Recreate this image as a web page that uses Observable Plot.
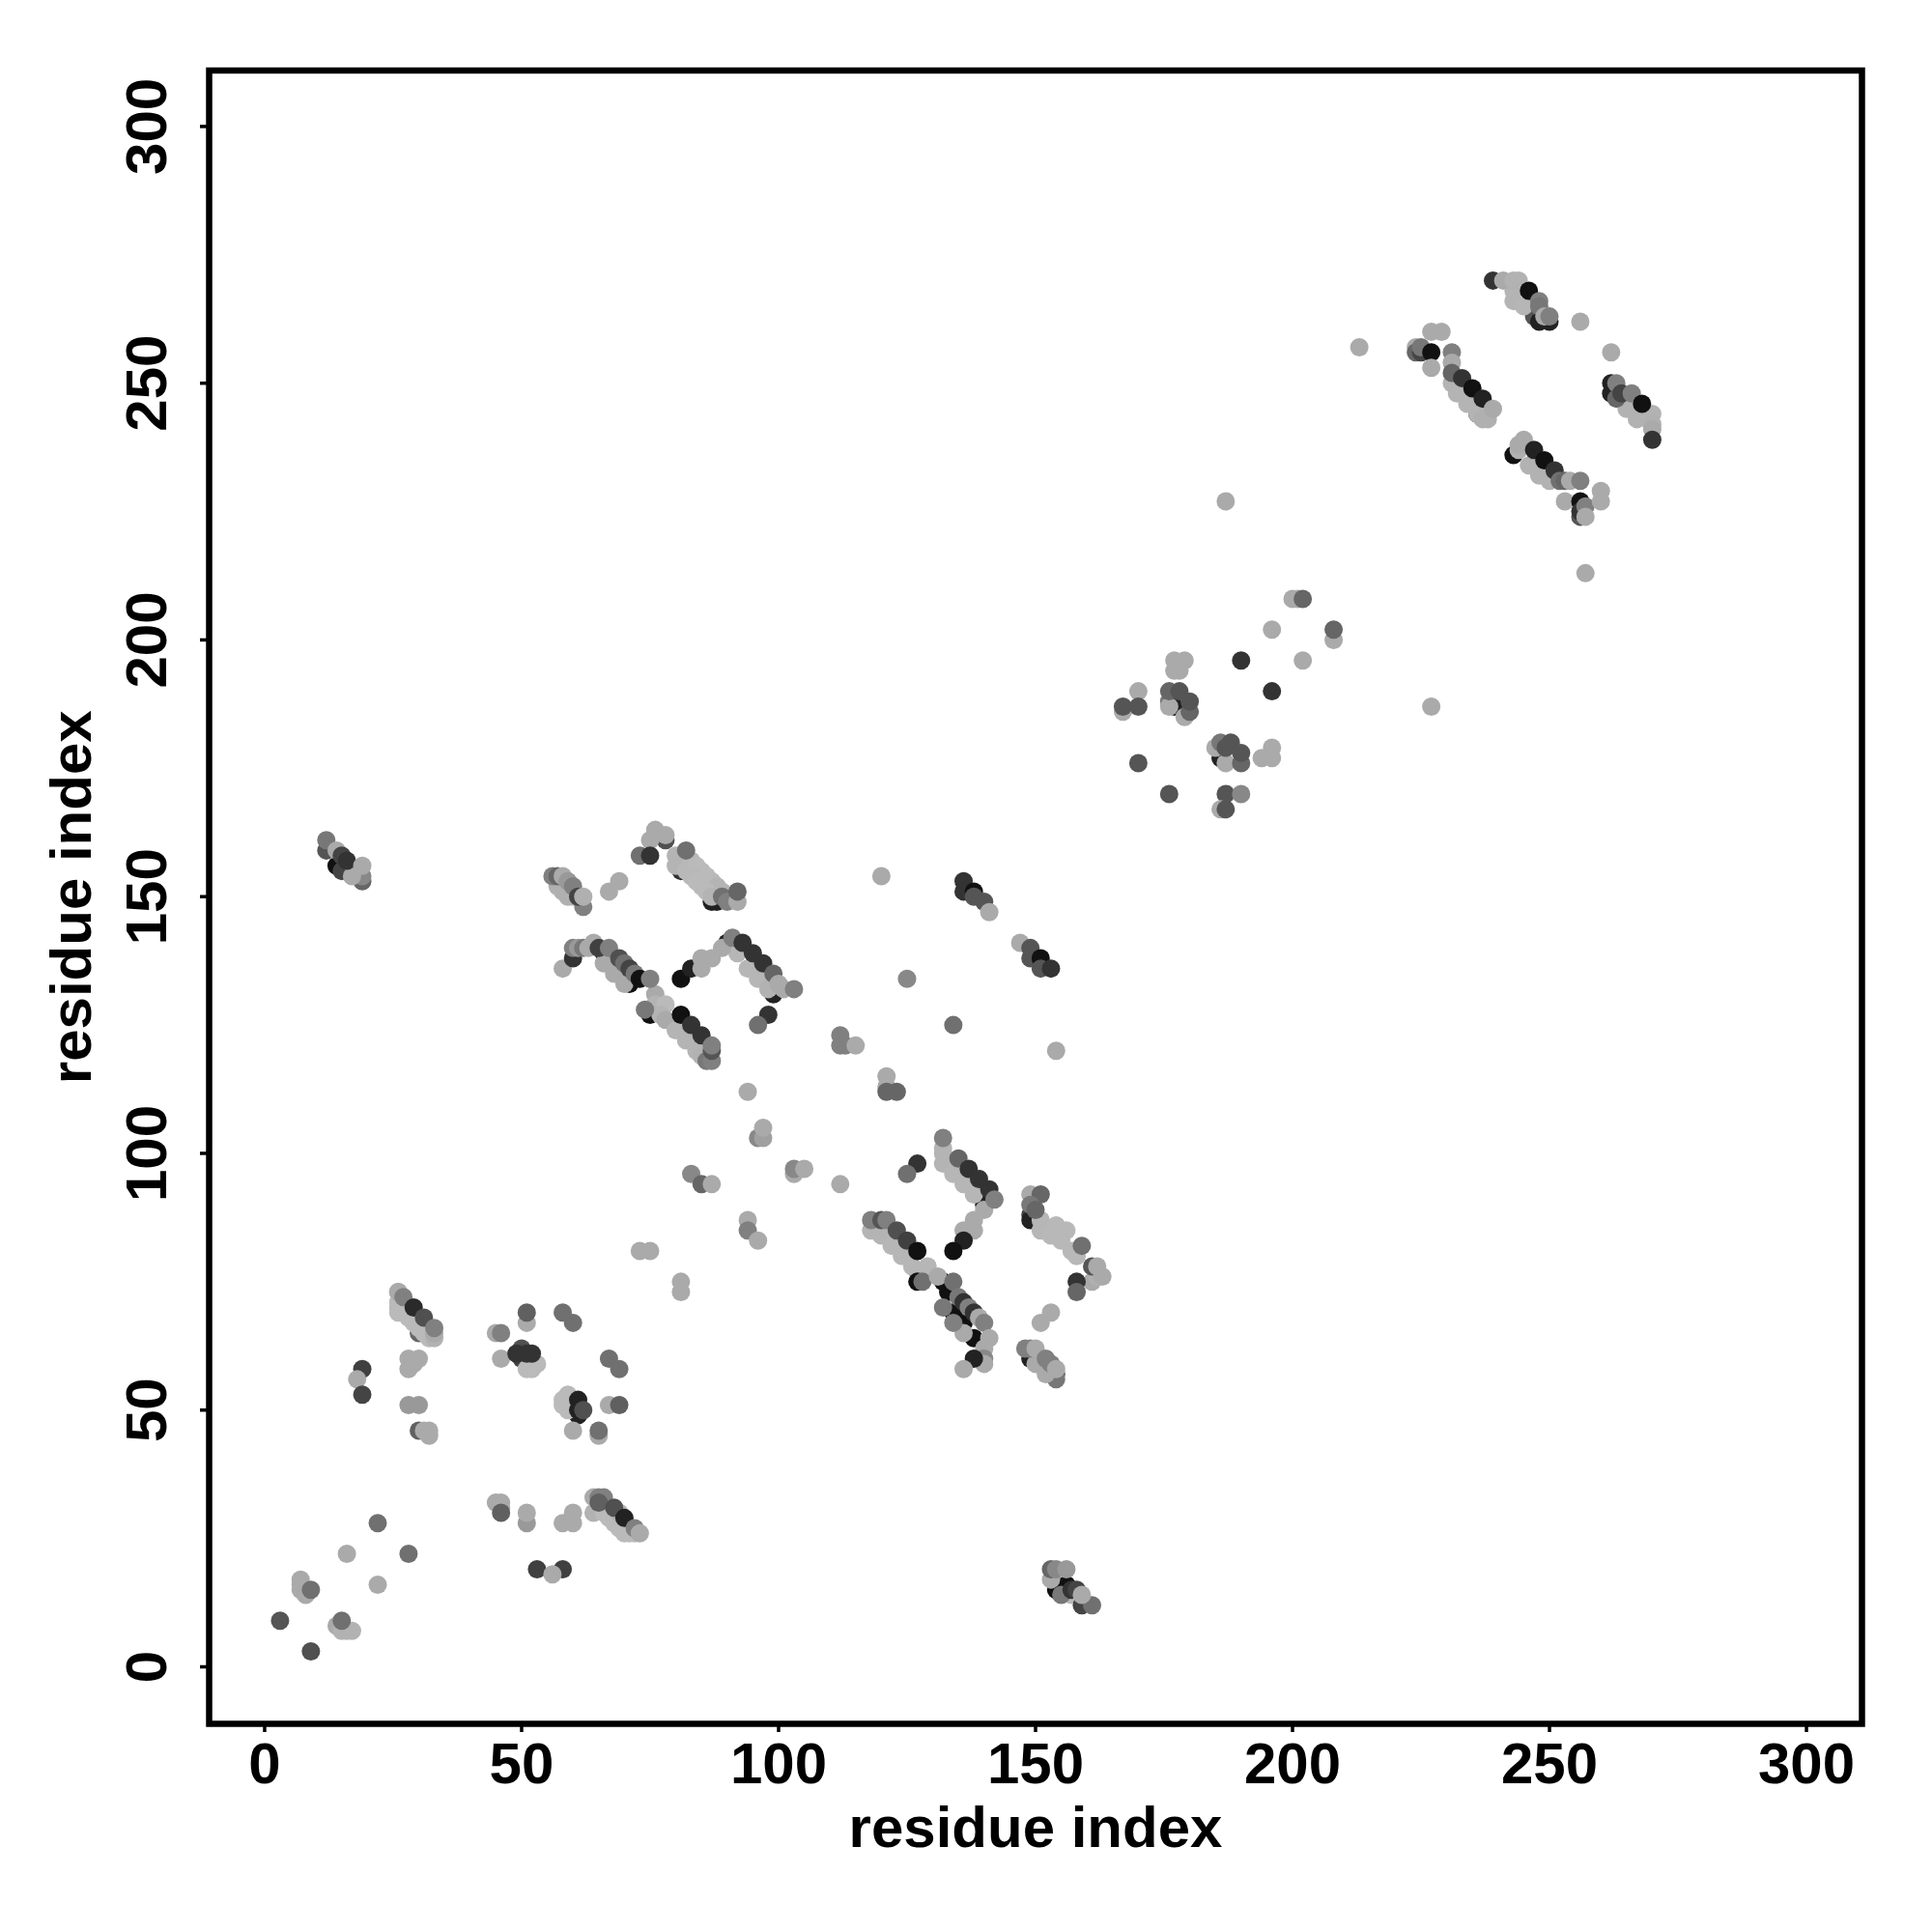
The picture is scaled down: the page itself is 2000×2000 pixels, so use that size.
<!DOCTYPE html>
<html>
<head>
<meta charset="utf-8">
<script src="https://cdn.jsdelivr.net/npm/d3@7"></script>
<script src="https://cdn.jsdelivr.net/npm/@observablehq/plot@0.6"></script>
<style>html,body{margin:0;padding:0;background:#fff}</style>
</head>
<body>
<script>
// Each record: [residue i, residue j, grey level 0-255]
const axisTicks = [0, 50, 100, 150, 200, 250, 300];
const axisLabel = "residue index";

// dark contacts partly hidden by the pale bands
const underLayer = [
 [31,66,51],[30,65,102],[32,65,51],[51,60,51],[50,60,68],[66,139,34],[67,137,17],[69,135,34],[71,133,17],
 [75,127,17],[81,155,51],[87,149,34],[88,149,34],[90,141,34],[99,131,34],[149,88,68],[149,87,34],
 [132,75,17],[133,73,17],[134,69,17],[136,67,17],[138,64,17],[140,90,34],[149,60,34],[154,57,85],[154,56,119],
 [243,236,17],[247,263,85],[248,262,34],[250,262,34],[236,244,17],[238,245,68],[256,224,85],[262,250,34],[262,248,34],
 [176,188,119],[177,187,34],[186,177,34],[14,156,17],[15,155,68],[154,15,17],[156,16,17],[61,49,34],[78,161,80],
 [45,65,170],[26,73,170],[167,186,170],[176,187,170],[185,179,170],[179,185,170],[187,176,170],[19,153,102],[19,154,136]
];
// pale diagonal bands
const paleLayer = [
 [7,17,170],[7,16,170],[7,15,170],[8,14,170],[14,8,170],[15,7,178],[16,7,178],[17,7,178],
 [26,71,186],[26,70,186],[26,69,186],[27,69,186],[28,70,186],[28,68,186],[29,67,186],[30,66,186],[31,65,186],[32,64,186],[33,64,178],[33,65,170],
 [51,58,186],[52,58,186],[53,59,186],[58,51,186],[58,52,186],[59,53,186],[59,50,186],[60,51,186],
 [64,33,170],[65,31,186],[64,30,178],[66,30,186],[67,29,186],[68,28,186],[69,27,186],[70,26,186],[71,26,186],[72,26,186],[69,30,178],
 [57,152,176],[58,151,176],[59,150,176],[60,150,176],[80,158,180],[80,156,180],[81,157,180],[82,155,184],[83,157,184],[84,156,186],[85,155,186],[86,154,186],[87,153,186],[88,152,180],[89,151,180],[83,154,184],[84,153,186],[85,152,186],[86,151,186],[87,150,180],
 [66,137,170],[68,135,170],[70,133,170],[76,131,170],[76,129,180],[78,129,186],[77,127,180],[78,126,170],[80,124,180],[82,122,180],[84,120,180],[85,119,178],[86,118,120],
 [92,139,182],[94,136,182],[96,134,182],[98,132,178],
 [132,101,180],[132,100,180],[132,98,180],[134,96,182],[136,94,182],[138,92,182],[140,89,170],
 [118,85,180],[120,84,180],[122,82,182],[124,80,182],[126,78,182],[129,78,182],[127,77,182],[136,65,170],
 [151,87,182],[151,85,182],[153,84,184],[154,86,184],[155,83,184],[156,85,184],[157,81,184],[158,80,184],[161,75,170],[162,76,176],
 [150,59,170],[152,57,170],[243,268,180],[243,266,180],[245,265,182],
 [231,250,180],[232,248,180],[234,246,180],[236,244,180],[237,243,176],[238,243,176],
 [244,237,176],[246,234,178],[248,232,178],[250,231,178],[265,245,178],[267,243,178],[269,243,178],[270,244,178],[270,242,176],
 [17,154,170],[157,14,186],[153,17,170]
];
// remaining contacts, drawn on top
const topLayer = [
 [3,9,85],[9,3,80],[9,15,112],[15,9,112],[16,22,170],[22,28,112],[28,22,112],[22,16,170],
 [26,73,170],[27,72,128],[29,70,42],[31,68,80],[33,66,128],
 [28,60,170],[30,60,170],[28,58,170],[29,59,170],[19,58,64],[18,56,170],[19,53,68],[28,51,153],[30,51,153],
 [30,46,96],[31,46,170],[32,46,170],[32,45,170],
 [46,65,128],[46,60,170],[51,67,170],[51,69,96],[58,69,112],[60,67,112],[50,62,80],[49,61,51],[51,61,51],[52,61,51],
 [67,60,112],[69,58,112],[61,52,34],[61,50,34],[62,50,80],[60,46,170],[65,45,170],[65,46,112],[67,51,170],[69,51,96],
 [45,32,170],[46,32,170],[46,31,170],[46,30,96],[51,28,153],[51,30,170],[58,28,170],[60,28,170],[60,30,170],
 [53,19,64],[58,19,64],[56,18,170],
 [65,33,128],[66,33,128],[65,32,96],[68,31,80],[70,29,34],[72,27,128],[73,26,170],
 [56,154,128],[57,154,102],[58,154,170],[59,153,153],[60,152,128],[62,148,128],[61,150,68],[62,150,176],
 [67,151,170],[69,153,170],[75,161,170],[76,163,170],[78,162,170],[73,158,112],[75,158,51],
 [82,159,112],[89,150,112],[90,149,128],[92,149,170],[92,151,102],
 [58,136,170],[60,138,51],[60,140,128],[61,140,153],[62,140,120],[63,140,170],[64,141,170],[65,140,64],[67,140,128],
 [69,138,80],[70,137,112],[71,136,68],[72,135,120],[73,134,17],[75,134,128],[74,128,120],
 [81,127,17],[83,125,51],[85,123,51],[87,118,128],[87,120,85],[87,121,128],
 [81,134,17],[83,136,34],[85,136,170],[85,138,170],[87,138,170],[89,140,170],[91,142,128],[93,141,51],[95,139,51],[97,137,51],[99,135,102],[100,133,170],[101,132,170],[103,132,128],
 [98,127,51],[96,125,112],[94,112,170],[96,103,136],[97,103,160],[97,105,170],
 [83,96,136],[85,94,102],[87,94,170],[103,96,170],[103,97,136],[105,97,170],[112,94,170],
 [94,87,170],[94,85,128],[96,83,170],[73,81,170],[75,81,170],[81,75,170],[81,73,170],
 [120,154,170],[125,134,136],[134,125,112],[112,123,128],[112,121,128],[113,121,128],[115,121,170],
 [121,115,170],[121,113,170],[121,112,102],[123,112,102],[154,120,170],
 [136,153,51],[136,151,51],[138,151,17],[138,150,85],[140,149,85],[141,147,170],
 [147,141,170],[149,140,85],[149,138,85],[151,138,17],[151,136,85],[153,136,51],
 [132,103,128],[135,99,102],[137,97,51],[139,95,51],[141,93,51],[142,91,128],
 [138,87,170],[138,85,170],[136,85,170],[136,83,34],[134,81,17],[127,98,51],[125,96,112],
 [118,87,128],[120,87,85],[121,87,128],[123,85,80],[125,83,64],[127,81,17],
 [127,75,17],[128,75,112],[131,76,170],[134,75,112],[135,72,120],[136,71,51],[137,70,128],[138,69,51],[139,68,170],[140,67,128],[132,70,120],[134,67,128],
 [140,62,170],[140,60,136],[140,59,170],[141,64,170],[138,60,34],[136,58,170],
 [149,92,170],[151,92,102],[149,90,120],[150,89,102],[159,82,112],[161,78,85],[162,78,170],[163,76,170],
 [158,75,51],[158,73,102],[151,67,170],[153,69,170],
 [148,62,128],[149,62,128],[150,62,170],[152,60,128],[153,59,128],[154,58,170],
 [153,19,102],[154,19,136],[156,19,153],[155,14,120],[157,15,51],[158,15,68],[159,12,68],[161,12,112],[159,14,170],
 [12,159,85],[12,161,119],[14,159,170],[15,158,68],[16,157,51],[19,156,170],
 [239,270,51],[241,270,170],[243,270,178],[244,270,178],[246,268,17],[248,266,128],[248,265,119],[249,263,170],[250,263,128],
 [256,262,170],[262,256,170],[227,260,170],[229,260,170],[224,257,170],[224,256,102],[225,256,68],[225,257,119],[227,256,17],[227,253,170],
 [231,256,128],[231,254,170],[231,252,102],[233,251,51],[235,249,17],[237,247,34],[239,245,170],
 [245,239,170],[244,238,170],[247,237,34],[249,235,17],[251,233,51],[252,231,112],[253,231,102],[254,231,170],[256,231,128],
 [253,227,170],[256,227,17],[256,225,51],[257,226,128],[257,224,170],[260,229,170],[260,227,170],
 [263,250,128],[263,247,102],[264,248,68],[266,248,128],[268,246,17],[270,241,170],[270,239,51],
 [213,257,170],[187,227,170],[257,213,170],[227,187,170],
 [200,208,170],[201,208,170],[202,208,102],[196,202,170],[208,200,170],[208,202,102],
 [190,196,51],[202,196,170],[196,190,51],[177,196,170],[179,196,170],[177,194,170],[178,194,170],
 [170,190,170],[170,187,85],[167,187,85],[176,190,102],[178,190,85],[180,186,102],[180,188,85],
 [186,180,119],[188,180,85],[187,179,85],[190,176,102],[190,178,85],[194,177,170],[196,179,170],[196,177,170],
 [170,176,85],[176,170,85],[187,170,85],[190,170,136],[186,167,170],[187,167,85]
];

const rows = [...underLayer, ...paleLayer, ...topLayer].map(([i, j, shade]) => ({i, j, shade}));

const fontSize = 60;
const chart = Plot.plot({
  width: 2000,
  height: 2000,
  marginLeft: 216,
  marginRight: 73,
  marginTop: 72.5,
  marginBottom: 216,
  style: {fontFamily: "'Liberation Sans', Arial, sans-serif", fontWeight: "bold", background: "#fff", color: "#000"},
  x: {domain: [-10.8, 310.8], ticks: axisTicks},
  y: {domain: [-11.1, 310.9], ticks: axisTicks},
  color: {type: "linear", domain: [0, 255], range: ["#000", "#fff"]},
  marks: [
    Plot.dot(rows, {x: "i", y: "j", r: 9.5, fill: "shade", stroke: null}),
    Plot.frame({stroke: "#000", strokeWidth: 6.5}),
    Plot.axisX(axisTicks, {
      tickSize: 9, strokeWidth: 3.5, stroke: "#000", tickPadding: 10,
      fontSize: fontSize, tickFormat: d => String(d),
      label: axisLabel, labelAnchor: "center", labelArrow: "none", labelOffset: 127
    }),
    Plot.axisY(axisTicks, {
      tickSize: 9, strokeWidth: 3.5, stroke: "#000", tickPadding: 36, tickRotate: -90,
      textAnchor: "middle", fontSize: fontSize, tickFormat: d => String(d),
      label: axisLabel, labelAnchor: "center", labelArrow: "none", labelOffset: 165
    })
  ]
});
document.body.appendChild(chart);
</script>
</body>
</html>
